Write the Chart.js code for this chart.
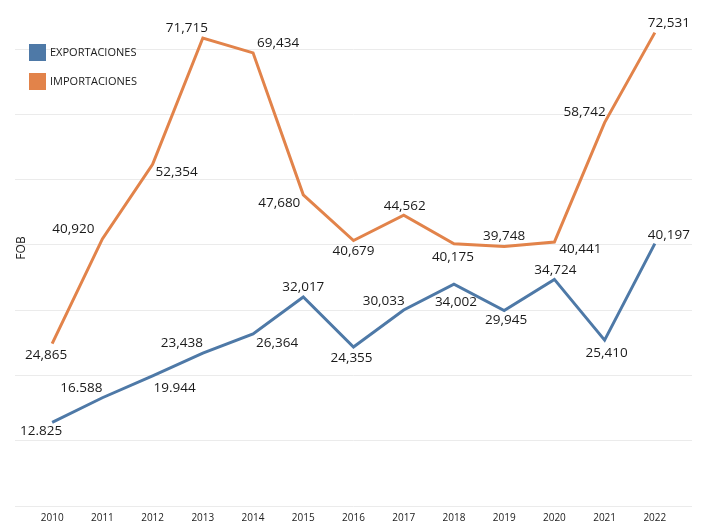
<!DOCTYPE html>
<html>
<head>
<meta charset="utf-8">
<script src="https://cdn.jsdelivr.net/npm/chart.js@4/dist/chart.umd.min.js"></script>
<style>
  body { margin: 0; background: #fff; }
  #wrap { width: 703px; height: 524px; }
</style>
</head>
<body>
<div id="wrap"><canvas id="myChart"></canvas></div>
<script>
const years = [2010, 2011, 2012, 2013, 2014, 2015, 2016, 2017, 2018, 2019, 2020, 2021, 2022];
const exportaciones = [12825, 16588, 19944, 23438, 26364, 32017, 24355, 30033, 34002, 29945, 34724, 25410, 40197];
const importaciones = [24865, 40920, 52354, 71715, 69434, 47680, 40679, 44562, 40175, 39748, 40441, 58742, 72531];
const exportLabels = ['12.825', '16.588', '19.944', '23,438', '26,364', '32,017', '24,355', '30,033', '34,002', '29,945', '34,724', '25,410', '40,197'];
const importLabels = ['24,865', '40,920', '52,354', '71,715', '69,434', '47,680', '40,679', '44,562', '40,175', '39,748', '40,441', '58,742', '72,531'];

// label offsets from each point (px), picked by eye
const exportOffsets = [[-11, 9], [-21, -10], [22, 12], [-21, -10], [24, 9], [0, -10], [-2, 11], [-20, -9], [2, 18], [2, 10], [1, -9], [2, 13], [14, -9]];
const importOffsets = [[-6, 11], [-29, -10], [24, 8], [-16, -10], [25, -10], [-24, 8], [0, 11], [1, -9], [-1, 13], [0, -10], [26, 7], [-20, -10], [14, -9]];

const blue = '#4e79a7';
const orange = '#e2834a';

const labelPlugin = {
  id: 'pointLabels',
  afterDatasetsDraw(chart) {
    const c = chart.ctx;
    const sets = [[0, exportLabels, exportOffsets], [1, importLabels, importOffsets]];
    c.save();
    c.font = '13.5px "Open Sans"';
    c.fillStyle = '#1a1a1a';
    c.textAlign = 'center';
    c.textBaseline = 'middle';
    sets.forEach(([i, texts, offs]) => {
      chart.getDatasetMeta(i).data.forEach((pt, j) => {
        c.fillText(texts[j], pt.x + offs[j][0], pt.y + offs[j][1]);
      });
    });

    // legend, top left
    c.font = '11px "Open Sans"';
    c.textAlign = 'left';
    chart.data.datasets.forEach((ds, k) => {
      const y = 44 + k * 29;
      c.fillStyle = ds.borderColor;
      c.fillRect(29, y, 17, 17);
      c.fillStyle = '#1a1a1a';
      c.fillText(ds.label, 50, y + 9);
    });

    // axis title
    c.translate(22, 248);
    c.rotate(-Math.PI / 2);
    c.textAlign = 'center';
    c.font = '12px "Open Sans"';
    c.fillText('FOB', 0, 0);
    c.restore();
  }
};

const ctx = document.getElementById('myChart').getContext('2d');
const chart = new Chart(ctx, {
  type: 'line',
  data: {
    labels: years,
    datasets: [{
      label: 'EXPORTACIONES',
      data: exportaciones.map((v, i) => ({ x: years[i], y: v })),
      borderColor: blue,
      backgroundColor: blue,
      borderWidth: 3,
      pointRadius: 0,
      tension: 0
    }, {
      label: 'IMPORTACIONES',
      data: importaciones.map((v, i) => ({ x: years[i], y: v })),
      borderColor: orange,
      backgroundColor: orange,
      borderWidth: 3,
      pointRadius: 0,
      tension: 0
    }]
  },
  options: {
    responsive: true,
    maintainAspectRatio: false,
    animation: false,
    layout: { padding: { left: 15, right: 11, top: 10, bottom: 0 } },
    plugins: {
      legend: { display: false },
      tooltip: { enabled: false }
    },
    scales: {
      x: {
        type: 'linear',
        min: 2009.26,
        max: 2022.74,
        grid: { display: false, drawTicks: false },
        border: { display: false },
        afterBuildTicks: (axis) => { axis.ticks = years.map(v => ({ value: v })); },
        afterFit: (axis) => { axis.height = 18; },
        ticks: {
          autoSkip: false,
          maxRotation: 0,
          padding: 7,
          color: '#222',
          font: { family: 'Open Sans', size: 10, lineHeight: 1 },
          callback: (v) => String(v)
        }
      },
      y: {
        min: 0,
        max: 76000,
        afterBuildTicks: (axis) => {
          axis.ticks = [0, 10000, 20000, 30000, 40000, 50000, 60000, 70000].map(v => ({ value: v }));
        },
        grid: { color: '#ebebeb', lineWidth: 1, drawTicks: false },
        border: { display: false },
        ticks: { display: false }
      }
    }
  },
  plugins: [labelPlugin]
});
</script>
</body>
</html>
